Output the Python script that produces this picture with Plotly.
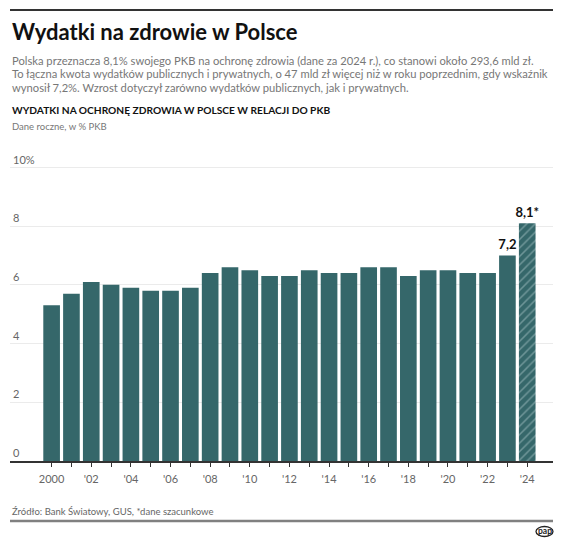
import plotly.graph_objects as go

# data
years = list(range(2000, 2025))
values = [5.3, 5.7, 6.1, 6.0, 5.9, 5.8, 5.8, 5.9, 6.4, 6.6, 6.5, 6.3,
          6.3, 6.5, 6.4, 6.4, 6.6, 6.6, 6.3, 6.5, 6.5, 6.4, 6.4, 7.0, 8.1]
bar_labels = [""] * 23 + ["7,2", "8,1*"]
x_ticktext = ["2000" if y == 2000 else ("'" + str(y)[2:] if y % 2 == 0 else "") for y in years]
y_tickvals = [0, 2, 4, 6, 8, 10]
y_ticktext = ["0", "2", "4", "6", "8", "10%"]

title = "Wydatki na zdrowie w Polsce"
subtitle = ["Polska przeznacza 8,1% swojego PKB na ochronę zdrowia (dane za 2024 r.), co stanowi około 293,6 mld zł.",
            "To łączna kwota wydatków publicznych i prywatnych, o 47 mld zł więcej niż w roku poprzednim, gdy wskaźnik",
            "wynosił 7,2%. Wzrost dotyczył zarówno wydatków publicznych, jak i prywatnych."]
heading = "WYDATKI NA OCHRONĘ ZDROWIA W POLSCE W RELACJI DO PKB"
unit_note = "Dane roczne, w % PKB"
source = "Źródło: Bank Światowy, GUS, *dane szacunkowe"

FONT = "Lato, Open Sans, sans-serif"
TEAL = "#35676a"
# the page body adds an 8px margin, so the figure is drawn 8px smaller
OFF = 8
W, H = 564 - OFF, 546 - OFF
X0, X1, Y0 = 10, 553, 461          # plot edges in window pixels
YMAX = 11
PX_PER_UNIT = 29.37
plot_h = YMAX * PX_PER_UNIT
ML, MR = X0 - OFF, W - (X1 - OFF)
MB = H - (Y0 - OFF)
MT = H - MB - plot_h


def py(pix):
    # window pixel row -> paper y
    return (Y0 - pix) / plot_h


def px(pix):
    # window pixel column -> paper x
    return (pix - X0) / (X1 - X0)


def add_text(fig, txt, pix_y, size, color, bold=False):
    fig.add_annotation(text=f"<b>{txt}</b>" if bold else txt, x=0, y=py(pix_y),
                       xref="paper", yref="paper", xanchor="left", yanchor="middle",
                       showarrow=False, font=dict(family=FONT, size=size, color=color))


patterns = ["/" if lbl.endswith("*") else "" for lbl in bar_labels]

fig = go.Figure()
fig.add_trace(go.Bar(
    x=years, y=values, text=bar_labels, textposition="outside",
    textfont=dict(family=FONT, size=13, color="#111111"),
    texttemplate="<b>%{text}</b>", cliponaxis=False, constraintext="none",
    marker=dict(color=TEAL, line_width=0,
                pattern=dict(shape=patterns, fgcolor="#a8c4c5", fillmode="overlay",
                             size=6, solidity=0.25)),
    hoverinfo="skip",
))

fig.update_layout(
    width=W, height=H, margin=dict(l=ML, r=MR, t=MT, b=MB),
    plot_bgcolor="white", paper_bgcolor="white", showlegend=False,
    bargap=0.16,
    font=dict(family=FONT, color="#666666"),
    xaxis=dict(range=[1997.9, 2025.3], tickvals=years, ticktext=x_ticktext,
               ticks="outside", ticklen=4, tickcolor="#333333", tickwidth=1,
               showline=True, linecolor="#333333", linewidth=1.5, showgrid=False,
               ticklabelstandoff=3,
               tickfont=dict(size=11, color="#666666"), zeroline=False),
    yaxis=dict(range=[0, YMAX], tickvals=y_tickvals, ticktext=y_ticktext,
               ticklabelposition="inside top", showgrid=True, gridcolor="#ebebeb",
               gridwidth=1, zeroline=False, showline=False, ticks="",
               tickfont=dict(size=11, color="#666666")),
)

# header / footer rules
fig.add_shape(type="line", xref="paper", yref="paper", x0=0, x1=1, y0=py(10), y1=py(10),
              line=dict(color="#333333", width=2))
fig.add_shape(type="line", xref="paper", yref="paper", x0=0, x1=1, y0=py(521), y1=py(521),
              line=dict(color="#808080", width=2.5))

add_text(fig, title, 31, 22, "#111111", bold=True)
for i, line in enumerate(subtitle):
    add_text(fig, line, 60 + i * 13.5, 11.2, "#777777")
add_text(fig, heading, 110, 10.2, "#111111", bold=True)
add_text(fig, unit_note, 126, 9.5, "#777777")
add_text(fig, source, 512, 9.5, "#666666")

# pap logo
fig.add_shape(type="circle", xref="paper", yref="paper",
              x0=px(536), x1=px(553), y0=py(536.5), y1=py(526.5),
              line=dict(color="#222222", width=1.3), fillcolor="white")
fig.add_annotation(text="<b>pap</b>", x=px(544.5), y=py(531.5),
                   xref="paper", yref="paper", xanchor="center", yanchor="middle",
                   showarrow=False, font=dict(family=FONT, size=8.5, color="#222222"))

fig.write_html("out.html")
